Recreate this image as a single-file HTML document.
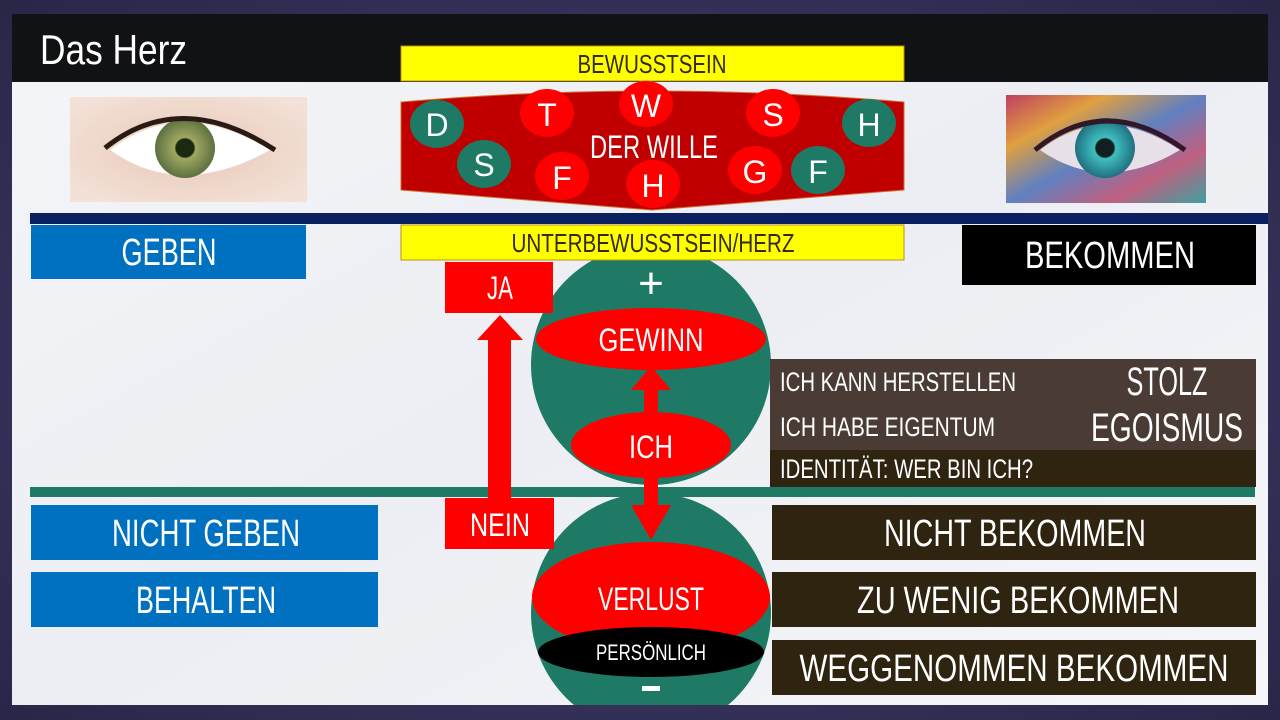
<!DOCTYPE html>
<html><head><meta charset="utf-8"><style>
html,body{margin:0;padding:0;width:1280px;height:720px;overflow:hidden;background:#3a3560}
svg{display:block}
text{font-family:"Liberation Sans Narrow","Liberation Sans",sans-serif;fill:#fff}
</style></head><body>
<svg width="1280" height="720" viewBox="0 0 1280 720" xmlns="http://www.w3.org/2000/svg">
<defs>
<radialGradient id="bg" cx="50%" cy="50%" r="70%"><stop offset="0" stop-color="#4a4577"/><stop offset="1" stop-color="#2a2648"/></radialGradient>
<linearGradient id="slide" x1="0" y1="0" x2="1" y2="1"><stop offset="0" stop-color="#f4f5f8"/><stop offset="0.5" stop-color="#eceef3"/><stop offset="1" stop-color="#f5f6f9"/></linearGradient>
<radialGradient id="skin" cx="50%" cy="50%" r="60%"><stop offset="0" stop-color="#e8c8b8"/><stop offset="1" stop-color="#f3e0d6"/></radialGradient>
<radialGradient id="iris1"><stop offset="0" stop-color="#1a2a10"/><stop offset="0.3" stop-color="#1a2a10"/><stop offset="0.35" stop-color="#a0a860"/><stop offset="1" stop-color="#5c7040"/></radialGradient>
<radialGradient id="iris2"><stop offset="0" stop-color="#102020"/><stop offset="0.3" stop-color="#102020"/><stop offset="0.35" stop-color="#40c0c0"/><stop offset="1" stop-color="#207080"/></radialGradient>
<linearGradient id="mosaic" x1="0" y1="0" x2="1" y2="1"><stop offset="0" stop-color="#c04060"/><stop offset="0.25" stop-color="#e0a040"/><stop offset="0.5" stop-color="#6080c0"/><stop offset="0.75" stop-color="#c06080"/><stop offset="1" stop-color="#40a0a0"/></linearGradient>
</defs>
<rect width="1280" height="720" fill="url(#bg)"/>
<rect x="12" y="14" width="1256" height="691" fill="url(#slide)"/>
<rect x="12" y="14" width="1256" height="68" fill="#111214"/>
<text x="40" y="64" font-size="42" textLength="147" lengthAdjust="spacingAndGlyphs">Das Herz</text>

<!-- eyes -->
<rect x="70" y="97" width="237" height="105" fill="url(#skin)"/>
<path d="M110 150 Q180 95 270 150 Q180 200 110 150Z" fill="#fff"/>
<circle cx="185" cy="148" r="30" fill="url(#iris1)"/>
<path d="M105 148 Q180 88 275 150" fill="none" stroke="#2a1a14" stroke-width="5"/>
<rect x="1006" y="95" width="200" height="108" fill="url(#mosaic)"/>
<path d="M1040 150 Q1105 100 1180 150 Q1105 195 1040 150Z" fill="#e8e0e8"/>
<circle cx="1105" cy="148" r="30" fill="url(#iris2)"/>
<path d="M1035 150 Q1105 92 1185 150" fill="none" stroke="#301828" stroke-width="5"/>

<!-- lines -->
<rect x="30" y="213" width="1238" height="11" fill="#0a2060"/>
<rect x="30" y="487" width="1225" height="10" fill="#1e7a64"/>

<!-- circles -->
<circle cx="651" cy="365" r="120" fill="#1e7a64"/>
<clipPath id="cl"><rect x="0" y="0" width="1280" height="705"/></clipPath>
<g clip-path="url(#cl)">
<circle cx="651" cy="613" r="120" fill="#1e7a64"/>
</g>

<!-- yellow bars -->
<rect x="401" y="46" width="503" height="35" fill="#ffff00" stroke="#b89020" stroke-width="1"/>
<text x="652" y="73" font-size="26" style="fill:#332a10" text-anchor="middle" textLength="149" lengthAdjust="spacingAndGlyphs">BEWUSSTSEIN</text>
<rect x="401" y="225" width="503" height="35" fill="#ffff00" stroke="#b89020" stroke-width="1"/>
<text x="653" y="252" font-size="26" style="fill:#332a10" text-anchor="middle" textLength="283" lengthAdjust="spacingAndGlyphs">UNTERBEWUSSTSEIN/HERZ</text>

<!-- der wille -->
<path d="M401 102 Q652 80 904 102 L904 190 L652 210 L401 190Z" fill="#c00000" stroke="#d07030" stroke-width="1"/>
<g font-size="32" text-anchor="middle">
<ellipse cx="437" cy="124" rx="27" ry="24" fill="#1e7a64"/><text x="437" y="136">D</text>
<ellipse cx="484" cy="164" rx="27" ry="24" fill="#1e7a64"/><text x="484" y="176">S</text>
<ellipse cx="547" cy="113" rx="27" ry="24" fill="#ff0000"/><text x="547" y="126">T</text>
<ellipse cx="562" cy="176" rx="27" ry="24" fill="#ff0000"/><text x="562" y="189">F</text>
<ellipse cx="646" cy="104" rx="27" ry="23" fill="#ff0000"/><text x="646" y="117">W</text>
<ellipse cx="653" cy="184" rx="27" ry="24" fill="#ff0000"/><text x="653" y="197">H</text>
<ellipse cx="773" cy="113" rx="27" ry="24" fill="#ff0000"/><text x="773" y="126">S</text>
<ellipse cx="755" cy="170" rx="27" ry="24" fill="#ff0000"/><text x="755" y="183">G</text>
<ellipse cx="869" cy="123" rx="27" ry="24" fill="#1e7a64"/><text x="869" y="136">H</text>
<ellipse cx="818" cy="170" rx="27" ry="24" fill="#1e7a64"/><text x="818" y="183">F</text>
</g>
<text x="654" y="158" font-size="32" text-anchor="middle" textLength="128" lengthAdjust="spacingAndGlyphs">DER WILLE</text>

<!-- left blue -->
<rect x="31" y="225" width="275" height="54" fill="#0070c0"/>
<text x="169" y="265" font-size="38" text-anchor="middle" textLength="95" lengthAdjust="spacingAndGlyphs">GEBEN</text>
<rect x="31" y="505" width="347" height="55" fill="#0070c0"/>
<text x="206" y="546" font-size="38" text-anchor="middle" textLength="188" lengthAdjust="spacingAndGlyphs">NICHT GEBEN</text>
<rect x="31" y="572" width="347" height="55" fill="#0070c0"/>
<text x="206" y="613" font-size="38" text-anchor="middle" textLength="140" lengthAdjust="spacingAndGlyphs">BEHALTEN</text>

<!-- right -->
<rect x="962" y="225" width="294" height="60" fill="#000"/>
<text x="1110" y="268" font-size="38" text-anchor="middle" textLength="170" lengthAdjust="spacingAndGlyphs">BEKOMMEN</text>
<rect x="770" y="359" width="486" height="92" fill="#4a3c34"/>
<rect x="770" y="450" width="486" height="37" fill="#2e2410"/>
<text x="780" y="391" font-size="27" textLength="236" lengthAdjust="spacingAndGlyphs">ICH KANN HERSTELLEN</text>
<text x="780" y="436" font-size="27" textLength="215" lengthAdjust="spacingAndGlyphs">ICH HABE EIGENTUM</text>
<text x="780" y="478" font-size="27" textLength="253" lengthAdjust="spacingAndGlyphs">IDENTITÄT: WER BIN ICH?</text>
<text x="1167" y="395" font-size="40" text-anchor="middle" textLength="81" lengthAdjust="spacingAndGlyphs">STOLZ</text>
<text x="1167" y="441" font-size="40" text-anchor="middle" textLength="152" lengthAdjust="spacingAndGlyphs">EGOISMUS</text>
<rect x="772" y="505" width="484" height="55" fill="#2e2410"/>
<text x="1015" y="546" font-size="38" text-anchor="middle" textLength="262" lengthAdjust="spacingAndGlyphs">NICHT BEKOMMEN</text>
<rect x="772" y="572" width="484" height="55" fill="#2e2410"/>
<text x="1018" y="613" font-size="38" text-anchor="middle" textLength="322" lengthAdjust="spacingAndGlyphs">ZU WENIG BEKOMMEN</text>
<rect x="772" y="640" width="484" height="55" fill="#2e2410"/>
<text x="1014" y="681" font-size="38" text-anchor="middle" textLength="429" lengthAdjust="spacingAndGlyphs">WEGGENOMMEN BEKOMMEN</text>

<text x="651" y="298" font-size="44" text-anchor="middle">+</text>
<ellipse cx="651" cy="339" rx="115" ry="31" fill="#ff0000"/>
<text x="651" y="351" font-size="32" text-anchor="middle" textLength="105" lengthAdjust="spacingAndGlyphs">GEWINN</text>
<ellipse cx="651" cy="597" rx="119" ry="55" fill="#ff0000"/>
<text x="651" y="610" font-size="32" text-anchor="middle" textLength="106" lengthAdjust="spacingAndGlyphs">VERLUST</text>
<ellipse cx="651" cy="652" rx="113" ry="25" fill="#000"/>
<text x="651" y="660" font-size="22" text-anchor="middle" textLength="110" lengthAdjust="spacingAndGlyphs">PERSÖNLICH</text>
<rect x="642" y="686" width="18" height="5" fill="#fff"/>

<!-- ich arrows -->
<polygon points="644,415 644,390 631,390 651,366 671,390 658,390 658,415" fill="#ff0000"/>
<polygon points="644,470 644,505 631,505 651,540 671,505 658,505 658,470" fill="#ff0000"/>
<ellipse cx="651" cy="445" rx="80" ry="33" fill="#ff0000"/>
<text x="651" y="458" font-size="32" text-anchor="middle" textLength="44" lengthAdjust="spacingAndGlyphs">ICH</text>

<!-- ja/nein -->
<rect x="445" y="262" width="108" height="51" fill="#ff0000"/>
<text x="500" y="299" font-size="32" text-anchor="middle" textLength="26" lengthAdjust="spacingAndGlyphs">JA</text>
<polygon points="488,545 488,340 477,340 500,315 523,340 511,340 511,545" fill="#ff0000"/>
<rect x="445" y="498" width="109" height="51" fill="#ff0000"/>
<text x="500" y="536" font-size="32" text-anchor="middle" textLength="60" lengthAdjust="spacingAndGlyphs">NEIN</text>
</svg>
</body></html>
